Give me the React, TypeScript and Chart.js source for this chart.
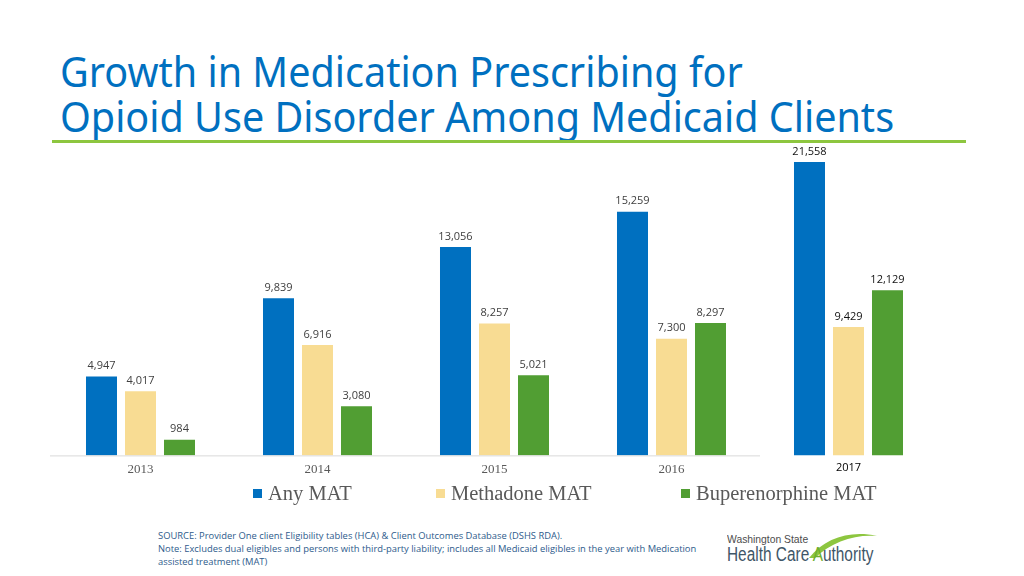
import React, { useEffect, useRef } from "react";
import { Chart, registerables } from "chart.js";

Chart.register(...registerables);

const categories = ["2013", "2014", "2015", "2016", "2017"];
const anyMat = [4947, 9839, 13056, 15259, 21558];
const methadoneMat = [4017, 6916, 8257, 7300, 9429];
const bupMat = [984, 3080, 5021, 8297, 12129];
const seriesNames = ["Any MAT", "Methadone MAT", "Buperenorphine MAT"];
const seriesColors = ["#0070C0", "#F8DC93", "#519E33"];

// the 2017 group in the reference is a separately scaled inset
const insetIndex = 4;

const fmt = (v: number) => v.toLocaleString("en-US");

const valueLabels = {
  id: "valueLabels",
  afterDatasetsDraw(chart: any) {
    const ctx = chart.ctx;
    ctx.save();
    ctx.textAlign = "center";
    ctx.textBaseline = "bottom";
    chart.data.datasets.forEach((ds: any, di: number) => {
      const meta = chart.getDatasetMeta(di);
      meta.data.forEach((el: any, i: number) => {
        const v = ds.data[i];
        if (v === null || v === undefined) return;
        const inset = i === insetIndex;
        ctx.fillStyle = inset ? "#111111" : "#404040";
        ctx.font = "11px 'Open Sans'";
        ctx.fillText(fmt(v), el.x, el.y - 5);
      });
    });
    ctx.restore();
  },
};

const baseLine = {
  id: "baseLine",
  afterDatasetsDraw(chart: any) {
    const x = chart.scales.x;
    const ctx = chart.ctx;
    const half = (x.getPixelForValue(1) - x.getPixelForValue(0)) / 2;
    const y = chart.chartArea.bottom + 0.5;
    ctx.save();
    ctx.strokeStyle = "#D9D9D9";
    ctx.lineWidth = 1;
    ctx.beginPath();
    ctx.moveTo(chart.chartArea.left - 2, y);
    ctx.lineTo(x.getPixelForValue(insetIndex - 1) + half, y);
    ctx.stroke();
    ctx.restore();
  },
};

export default function App() {
  const ref = useRef<HTMLCanvasElement | null>(null);

  useEffect(() => {
    document.body.style.margin = "0";
    if (!ref.current) return;
    const main = (arr: number[]) => arr.map((v, i) => (i === insetIndex ? null : v));
    const inset = (arr: number[]) => arr.map((v, i) => (i === insetIndex ? v : null));
    const sets = [anyMat, methadoneMat, bupMat];
    const datasets: any[] = [];
    sets.forEach((arr, k) => {
      datasets.push({
        label: seriesNames[k],
        data: main(arr),
        backgroundColor: seriesColors[k],
        yAxisID: "y",
      });
    });
    sets.forEach((arr, k) => {
      datasets.push({
        label: seriesNames[k] + " 2017",
        data: inset(arr),
        backgroundColor: seriesColors[k],
        yAxisID: "y2",
      });
    });
    const chart = new Chart(ref.current, {
      type: "bar",
      data: { labels: categories, datasets },
      options: {
        animation: false,
        responsive: false,
        layout: { padding: { left: 52, right: 87, top: 160, bottom: 3 } },
        datasets: {
          bar: {
            skipNull: true,
            categoryPercentage: 0.661,
            barPercentage: 0.795,
          },
        } as any,
        plugins: {
          legend: { display: false },
          tooltip: { enabled: false },
        },
        scales: {
          x: {
            grid: { display: false, drawTicks: false },
            border: { display: false },
            ticks: {
              padding: 6,
              color: (c: any) => (c.index === insetIndex ? "#000000" : "#595959"),
              font: (c: any) =>
                c.index === insetIndex
                  ? { family: "'Open Sans'", size: 11 }
                  : { family: "'Liberation Serif'", size: 13 },
            },
          },
          y: { display: false, min: 0, max: 18500 },
          y2: { display: false, min: 0, max: 21700 },
        },
      },
      plugins: [valueLabels, baseLine],
    });
    return () => chart.destroy();
  }, []);

  const legendItems = [
    { x: 253, text: seriesNames[0], color: seriesColors[0] },
    { x: 436, text: seriesNames[1], color: seriesColors[1] },
    { x: 681, text: seriesNames[2], color: seriesColors[2] },
  ];

  return (
    <div
      style={{
        position: "absolute",
        left: 0,
        top: 0,
        width: 1024,
        height: 576,
        background: "#FFFFFF",
        overflow: "hidden",
      }}
    >
      <div
        style={{
          position: "absolute",
          left: 60,
          top: 49,
          fontFamily: "'Noto Sans', sans-serif",
          fontSize: 41,
          lineHeight: "45px",
          color: "#0070C0",
          whiteSpace: "nowrap",
          transform: "scaleX(0.964)",
          transformOrigin: "0 0",
        }}
      >
        Growth in Medication Prescribing for
        <br />
        Opioid Use Disorder Among Medicaid Clients
      </div>
      <div
        style={{
          position: "absolute",
          left: 52,
          top: 140,
          width: 914,
          height: 3,
          background: "#8DC63F",
        }}
      />
      <canvas
        ref={ref}
        width={1024}
        height={486}
        style={{ position: "absolute", left: 0, top: 0, width: 1024, height: 486 }}
      />
      {legendItems.map((it) => (
        <div
          key={it.text}
          style={{
            position: "absolute",
            left: it.x,
            top: 481,
            height: 24,
            display: "flex",
            alignItems: "center",
            fontFamily: "'Liberation Serif', serif",
            fontSize: 20.5,
            color: "#595959",
            whiteSpace: "nowrap",
          }}
        >
          <span
            style={{
              display: "inline-block",
              width: 9,
              height: 9,
              background: it.color,
              marginRight: 6,
            }}
          />
          {it.text}
        </div>
      ))}
      <div
        style={{
          position: "absolute",
          left: 158,
          top: 529,
          fontFamily: "'Open Sans', sans-serif",
          fontSize: 9.4,
          lineHeight: "13px",
          color: "#2E5B8C",
          whiteSpace: "nowrap",
        }}
      >
        SOURCE: Provider One client Eligibility tables (HCA) &amp; Client Outcomes Database (DSHS RDA).
        <br />
        Note: Excludes dual eligibles and persons with third-party liability; includes all Medicaid eligibles in the year with Medication
        <br />
        assisted treatment (MAT)
      </div>
      <div
        style={{
          position: "absolute",
          left: 727,
          top: 533,
          fontFamily: "'Liberation Sans', sans-serif",
          fontSize: 11,
          lineHeight: "12px",
          color: "#4D4D4D",
          whiteSpace: "nowrap",
          transform: "scaleX(0.94)",
          transformOrigin: "0 0",
        }}
      >
        Washington State
      </div>
      <svg
        width={75}
        height={30}
        style={{ position: "absolute", left: 805, top: 530 }}
      >
        <path
          d="M4 28 C 20 8, 45 0, 72 6 C 50 4, 26 12, 10 28 Z"
          fill="#8DC63F"
        />
      </svg>
      <div
        style={{
          position: "absolute",
          left: 727,
          top: 543,
          fontFamily: "'Liberation Sans', sans-serif",
          fontSize: 19.5,
          lineHeight: "22px",
          color: "#3F5668",
          whiteSpace: "nowrap",
          transform: "scaleX(0.79)",
          transformOrigin: "0 0",
        }}
      >
        Health Care <span style={{ color: "#6FAE2E" }}>A</span>uthority
      </div>
    </div>
  );
}
